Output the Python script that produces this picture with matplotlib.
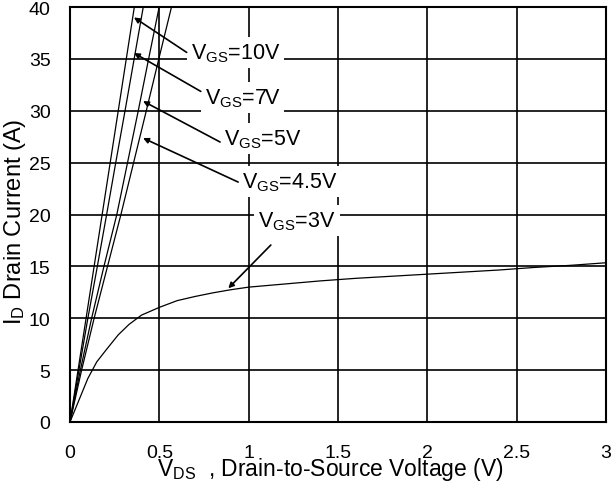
import matplotlib
matplotlib.use("Agg")
import matplotlib.pyplot as plt

plt.rcParams['font.family'] = ['Liberation Sans', 'DejaVu Sans']
plt.rcParams['mathtext.fontset'] = 'custom'
plt.rcParams['mathtext.rm'] = 'Liberation Sans'
plt.rcParams['mathtext.it'] = 'Liberation Sans'

# output curves
vds_10 = [0, 0.045, 0.09, 0.135, 0.18, 0.225, 0.27, 0.315, 0.36]
id_10 = [0, 5, 10, 15, 20, 25, 30, 35, 40]
vds_7 = [0, 0.05, 0.1, 0.153, 0.205, 0.256, 0.308, 0.359, 0.41]
id_7 = [0, 5, 10, 15, 20, 25, 30, 35, 40]
vds_5 = [0, 0.058, 0.121, 0.19, 0.262, 0.322, 0.382, 0.44, 0.499]
id_5 = [0, 5, 10, 15, 20, 25, 30, 35, 40]
vds_45 = [0, 0.065, 0.135, 0.21, 0.285, 0.356, 0.427, 0.497, 0.568]
id_45 = [0, 5, 10, 15, 20, 25, 30, 35, 40]
vds_3 = [0, 0.05, 0.1, 0.15, 0.2, 0.27, 0.33, 0.4, 0.5, 0.6, 0.7, 0.8, 0.9, 1.0,
         1.2, 1.4, 1.6, 1.8, 2.0, 2.2, 2.4, 2.6, 2.8, 3.0]
id_3 = [0, 2.1, 4.2, 5.8, 6.9, 8.4, 9.4, 10.3, 11.05, 11.7, 12.1, 12.45, 12.75, 13.0,
        13.3, 13.6, 13.85, 14.05, 14.25, 14.45, 14.65, 14.9, 15.1, 15.35]

x_ticks = [0, 0.5, 1, 1.5, 2, 2.5, 3]
x_tick_labels = ['0', '0.5', '1', '1.5', '2', '2.5', '3']
y_ticks = [0, 5, 10, 15, 20, 25, 30, 35, 40]

# label text, label anchor (left, centre), arrow tail, arrow tip
labels = [r'V$_{\mathregular{GS}}$=10V', r'V$_{\mathregular{GS}}$=7V',
          r'V$_{\mathregular{GS}}$=5V', r'V$_{\mathregular{GS}}$=4.5V',
          r'V$_{\mathregular{GS}}$=3V']
label_xy = [(0.675, 35.6), (0.756, 31.3), (0.862, 27.3), (0.963, 23.2), (1.053, 19.4)]
tail_xy = [(0.653, 35.63), (0.732, 31.87), (0.84, 26.99), (0.941, 23.13), (1.124, 17.06)]
tip_xy = [(0.358, 39.0), (0.358, 35.57), (0.409, 30.93), (0.409, 27.37), (0.886, 12.89)]

fig = plt.figure(figsize=(6.14, 4.89), dpi=100)
ax = fig.add_axes([0.114, 0.135, 0.873, 0.8485])

for xs, ys in [(vds_10, id_10), (vds_7, id_7), (vds_5, id_5), (vds_45, id_45), (vds_3, id_3)]:
    ax.plot(xs, ys, color='black', lw=0.9, zorder=3)

ax.set_xlim(0, 3)
ax.set_ylim(0, 40)
ax.set_xticks(x_ticks)
ax.set_xticklabels(x_tick_labels)
ax.set_yticks(y_ticks)
ax.tick_params(length=0, labelsize=14)
ax.tick_params(axis='x', pad=16)
ax.tick_params(axis='y', pad=14)
ax.grid(True, color='black', lw=1.2)
ax.set_axisbelow(True)
for s in ax.spines.values():
    s.set_linewidth(1.5)

for txt, lxy, txy, hxy in zip(labels, label_xy, tail_xy, tip_xy):
    ax.text(lxy[0], lxy[1], txt, fontsize=15.5, ha='left', va='center', zorder=4,
            bbox=dict(facecolor='white', edgecolor='none', pad=3))
    ax.annotate('', xy=hxy, xytext=txy, zorder=5,
                arrowprops=dict(arrowstyle='-|>', color='black', lw=1.2,
                                mutation_scale=8, shrinkA=0, shrinkB=0))

# axis titles placed where the datasheet has them
fig.text(157 / 614, 1 - 476 / 489, r'V$_{\mathregular{DS}}$  , Drain-to-Source Voltage (V)',
         fontsize=16.5, ha='left', va='baseline')
fig.text(15 / 614, 1 - 222 / 489, r'I$_{\mathregular{D}}$ Drain Current (A)',
         fontsize=17, rotation=90, ha='center', va='center')

fig.savefig('out.png', dpi=100)
